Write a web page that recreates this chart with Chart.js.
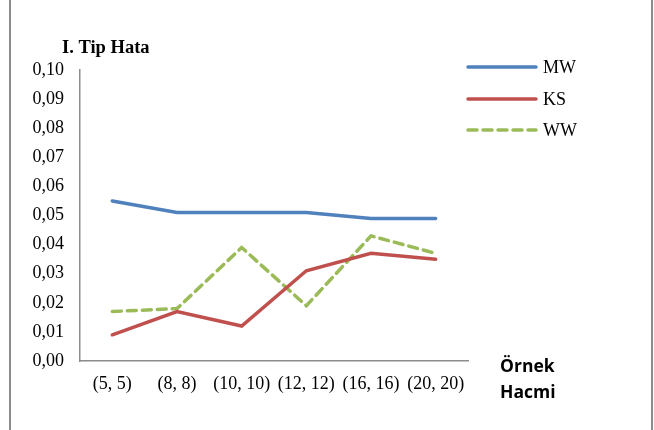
<!DOCTYPE html>
<html><head><meta charset="utf-8">
<script src="https://cdn.jsdelivr.net/npm/chart.js@4/dist/chart.umd.min.js"></script>
<style>html,body{margin:0;padding:0;background:#fff}#wrap{width:654px;height:430px}</style>
</head><body><div id="wrap"><canvas id="c" width="654" height="430"></canvas></div>
<script>
const categories = ['(5, 5)', '(8, 8)', '(10, 10)', '(12, 12)', '(16, 16)', '(20, 20)'];
const mwValues = [0.055, 0.051, 0.051, 0.051, 0.049, 0.049];
const ksValues = [0.009, 0.017, 0.012, 0.031, 0.037, 0.035];
const wwValues = [0.017, 0.018, 0.039, 0.019, 0.043, 0.037];
const seriesNames = ['MW', 'KS', 'WW'];
const yTitle = 'I. Tip Hata';
const xTitle = ['Örnek', 'Hacmi'];

const serif = '"Liberation Serif", "Times New Roman", serif';
const frame = {
  id: 'frame',
  beforeDraw(chart) {
    const c = chart.ctx;
    c.save();
    c.fillStyle = '#fff';
    c.fillRect(0, 0, chart.width, chart.height);
    c.strokeStyle = '#8c8c8c';
    c.lineWidth = 2;
    c.beginPath();
    c.moveTo(10, 0); c.lineTo(10, chart.height);
    c.moveTo(652, 0); c.lineTo(652, chart.height);
    c.stroke();
    c.restore();
  },
  afterDraw(chart) {
    const c = chart.ctx;
    c.save();
    c.fillStyle = '#000';
    c.font = 'bold 18.5px ' + serif;
    c.textBaseline = 'alphabetic';
    c.textAlign = 'left';
    c.fillText(yTitle, 62, 53);
    c.font = 'bold 17.5px "Open Sans", "Liberation Sans", sans-serif';
    c.fillText(xTitle[0], 500, 372);
    c.fillText(xTitle[1], 500, 398);
    const ys = [67, 99, 130];
    chart.data.datasets.forEach((ds, i) => {
      c.strokeStyle = ds.borderColor;
      c.lineWidth = ds.borderWidth;
      c.lineCap = 'round';
      c.setLineDash(ds.borderDash || []);
      c.beginPath();
      c.moveTo(468, ys[i]); c.lineTo(536, ys[i]);
      c.stroke();
      c.setLineDash([]);
      c.fillStyle = '#000';
      c.font = '18px ' + serif;
      c.textBaseline = 'middle';
      c.fillText(ds.label, 543, ys[i] + 1);
    });
    c.restore();
  }
};

new Chart(document.getElementById('c'), {
  type: 'line',
  data: {
    labels: categories,
    datasets: [
      { label: seriesNames[0], data: mwValues, borderColor: '#4F81BD', borderWidth: 3.5 },
      { label: seriesNames[1], data: ksValues, borderColor: '#C0504D', borderWidth: 3.5 },
      { label: seriesNames[2], data: wwValues, borderColor: '#9BBB59', borderWidth: 3.5, borderDash: [9, 6] }
    ]
  },
  options: {
    responsive: false,
    animation: false,
    devicePixelRatio: 1,
    elements: { point: { radius: 0 }, line: { tension: 0, borderCapStyle: 'round' } },
    layout: { padding: { left: 0, right: 186, top: 70, bottom: 0 } },
    plugins: { legend: { display: false }, tooltip: { enabled: false } },
    scales: {
      x: {
        offset: true,
        grid: { display: false, drawTicks: false, offset: true },
        border: { color: '#8c8c8c', width: 1.5 },
        ticks: { color: '#000', font: { family: serif, size: 18 }, padding: 12, maxRotation: 0, autoSkip: false },
        afterFit(s) { s.height = 69; }
      },
      y: {
        min: 0, max: 0.1,
        grid: { display: false, drawTicks: false },
        border: { color: '#8c8c8c', width: 1.5 },
        ticks: { stepSize: 0.01, color: '#000', font: { family: serif, size: 18 }, padding: 16,
          callback: v => v.toFixed(2).replace('.', ',') },
        afterFit(s) { s.width = 80; }
      }
    }
  },
  plugins: [frame]
});
</script></body></html>
